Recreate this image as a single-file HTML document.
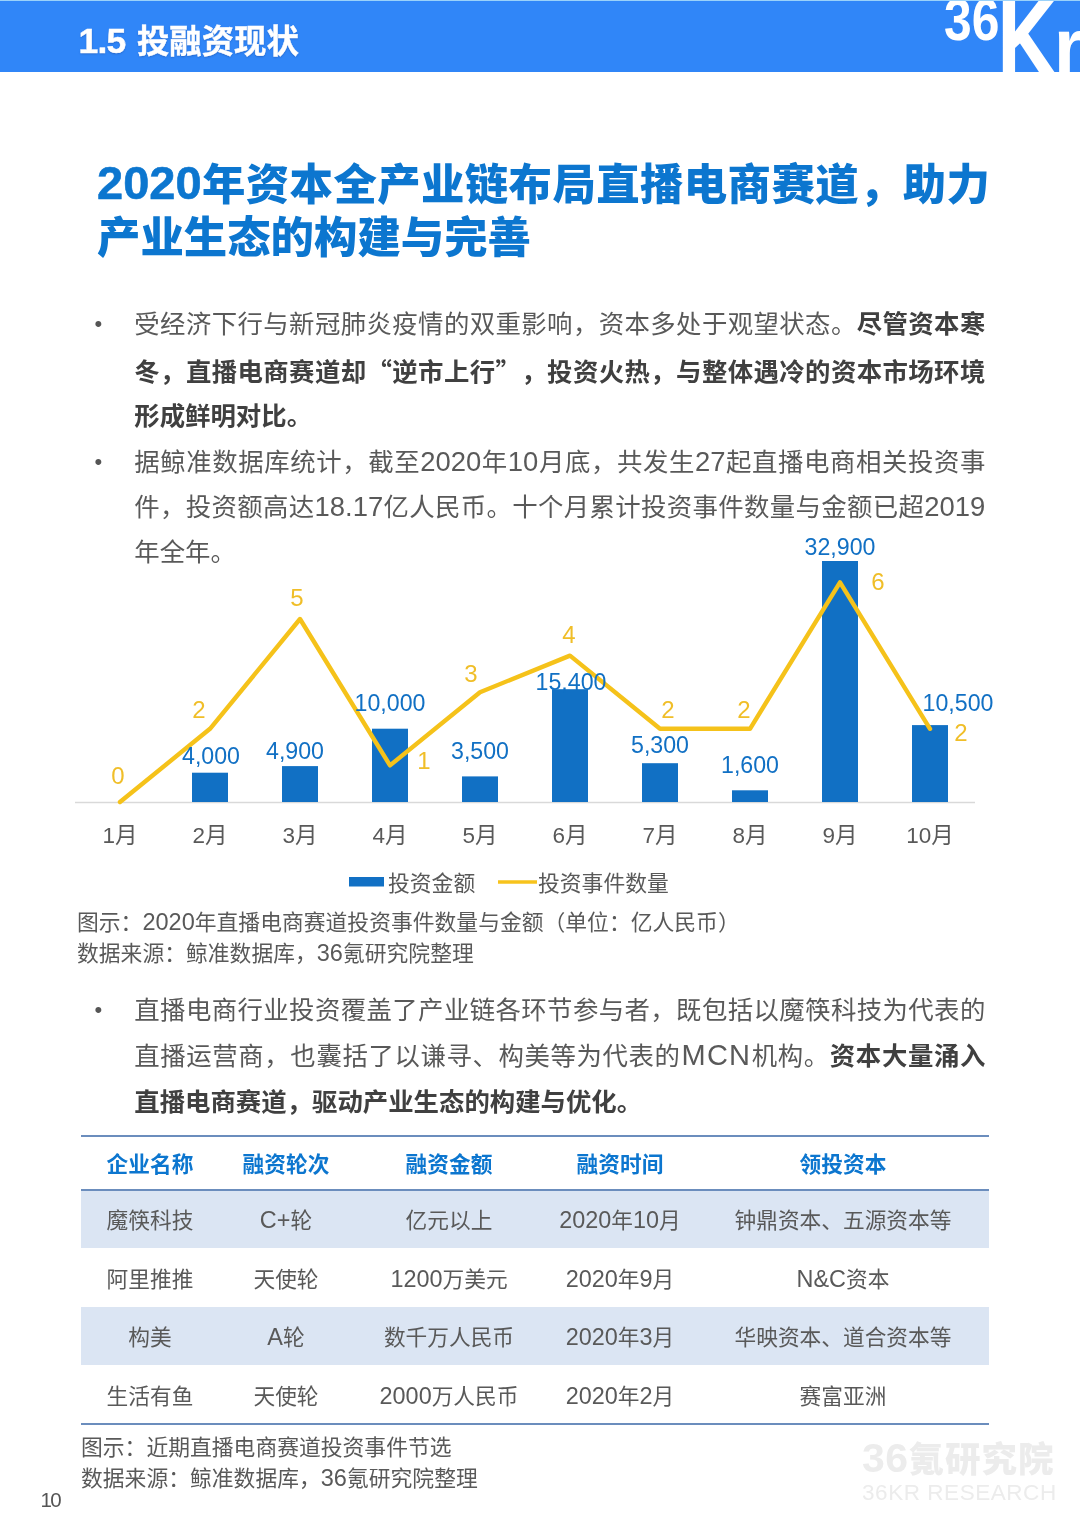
<!DOCTYPE html>
<html lang="zh-CN"><head><meta charset="utf-8"><title>1.5 投融资现状</title>
<style>
*{margin:0;padding:0;box-sizing:border-box}
html,body{width:1080px;height:1527px;background:#fff;overflow:hidden}
body{position:relative;text-spacing-trim:space-all;font-kerning:none;font-family:"Liberation Sans","Noto Sans CJK SC",sans-serif;color:#595959}
.abs{position:absolute;white-space:nowrap}
.j{text-align:justify;text-align-last:justify}
.hdr{position:absolute;left:0;top:0;width:1080px;height:72px;border-top:1px solid #9ad2fa;background:#3086f8;overflow:hidden}
.hdr .t b{font-size:35.5px;line-height:1px;letter-spacing:-0.8px}
.hdr .t{position:absolute;left:78.5px;top:20.8px;font-size:32.4px;line-height:40px;word-spacing:2.5px;-webkit-text-stroke:0.45px #fff;font-weight:700;color:#fff;text-shadow:0 1px 2px rgba(0,0,60,.25)}
.tn{font-size:47px;line-height:1px;-webkit-text-stroke:0.6px #0c76cf;position:relative;top:-1.5px}
.title{color:#0c76cf;font-weight:900;font-size:43.4px;line-height:54px}
.body{font-size:25.4px;line-height:46px;color:#595959}
.body b{color:#404040;font-weight:700}
.n{font-size:1.08em;line-height:1px}
.q{font-family:"Noto Sans CJK SC",sans-serif}
.cap{font-size:21.8px;line-height:30px;color:#595959}
.bul{font-size:22px;line-height:46px;color:#555}
</style></head><body>
<div class="hdr"><div class="t"><b>1.5</b> 投融资现状</div><svg style="position:absolute;left:930px;top:0" width="150" height="71" viewBox="930 1 150 71" font-family='"Liberation Sans",sans-serif' fill="#fff">
<text transform="translate(944,40) scale(0.83,1)" font-size="60" font-weight="700">36</text>
<text transform="translate(998.2,74) scale(0.80,1)" font-size="104" stroke="#fff" stroke-width="5" stroke-linejoin="miter" style="vector-effect:non-scaling-stroke" vector-effect="non-scaling-stroke">K</text>
<text transform="translate(1053.8,74) scale(0.97,1)" font-size="80" font-weight="700">r</text>
</svg></div>
<div class="abs title j" style="left:97px;top:158px;width:893px;"><span class="tn">2020</span>年资本全产业链布局直播电商赛道，助力</div>
<div class="abs title j" style="left:97px;top:211px;width:434px;">产业生态的构建与完善</div>
<div class="abs body j" style="left:134.3px;top:301px;width:851px;">受经济下行与新冠肺炎疫情的双重影响，资本多处于观望状态。<b>尽管资本寒</b></div>
<div class="abs body j" style="left:134.3px;top:347px;width:851px;"><b>冬，直播电商赛道却<span class="q">“</span>逆市上行<span class="q">”</span>，投资火热，与整体遇冷的资本市场环境</b></div>
<div class="abs body" style="left:134.3px;top:393px;"><b>形成鲜明对比。</b></div>
<div class="abs body j" style="left:134.3px;top:439px;width:851px;">据鲸准数据库统计，截至<span class="n">2020</span>年<span class="n">10</span>月底，共发生<span class="n">27</span>起直播电商相关投资事</div>
<div class="abs body j" style="left:134.3px;top:484px;width:851px;">件，投资额高达<span class="n">18.17</span>亿人民币。十个月累计投资事件数量与金额已超<span class="n">2019</span></div>
<div class="abs body" style="left:134.3px;top:529px;">年全年。</div>
<div class="abs body j" style="left:134.3px;top:987px;width:851px;">直播电商行业投资覆盖了产业链各环节参与者，既包括以魔筷科技为代表的</div>
<div class="abs body j" style="left:134.3px;top:1033px;width:851px;">直播运营商，也囊括了以谦寻、构美等为代表的<span style="font-size:29px;line-height:1px;letter-spacing:1.2px;margin-left:1px">MCN</span>机构。<b>资本大量涌入</b></div>
<div class="abs body" style="left:134.3px;top:1079px;"><b>直播电商赛道，驱动产业生态的构建与优化。</b></div>
<div class="abs bul" style="left:94.5px;top:301px;">•</div>
<div class="abs bul" style="left:94.5px;top:439px;">•</div>
<div class="abs bul" style="left:94.5px;top:987px;">•</div>
<div class="abs cap" style="left:77px;top:907.5px;">图示：<span class="n">2020</span>年直播电商赛道投资事件数量与金额（单位：亿人民币）</div>
<div class="abs cap" style="left:77px;top:938.5px;">数据来源：鲸准数据库，<span class="n">36</span>氪研究院整理</div>
<div class="abs cap" style="left:81px;top:1433px;">图示：近期直播电商赛道投资事件节选</div>
<div class="abs cap" style="left:81px;top:1464px;">数据来源：鲸准数据库，<span class="n">36</span>氪研究院整理</div>
<div class="abs " style="left:40.5px;top:1488px;font-size:20.5px;line-height:24px;color:#555;letter-spacing:-1.6px">10</div>
<div class="abs " style="left:862px;top:1434px;font-size:35.5px;line-height:48px;font-weight:900;color:#ececec;letter-spacing:1px"><span style="font-size:41px;letter-spacing:0.5px">36</span>氪研究院</div>
<div class="abs " style="left:862px;top:1478px;font-size:22.5px;line-height:30px;color:#ececec;letter-spacing:0.55px">36KR RESEARCH</div>
<svg class="abs" style="left:0;top:525px" width="1080" height="385" viewBox="0 525 1080 385" font-family='"Liberation Sans","Noto Sans CJK SC",sans-serif'>
<line x1="75" y1="802.5" x2="975" y2="802.5" stroke="#d9d9d9" stroke-width="1.5"/>
<rect x="192" y="772.7" width="36" height="29.3" fill="#1170c4"/>
<rect x="282" y="766.1" width="36" height="35.9" fill="#1170c4"/>
<rect x="372" y="728.7" width="36" height="73.3" fill="#1170c4"/>
<rect x="462" y="776.4" width="36" height="25.6" fill="#1170c4"/>
<rect x="552" y="689.2" width="36" height="112.8" fill="#1170c4"/>
<rect x="642" y="763.2" width="36" height="38.8" fill="#1170c4"/>
<rect x="732" y="790.3" width="36" height="11.7" fill="#1170c4"/>
<rect x="822" y="561.0" width="36" height="241.0" fill="#1170c4"/>
<rect x="912" y="725.1" width="36" height="76.9" fill="#1170c4"/>
<polyline points="120,802.0 210,728.8 300,619.0 390,765.4 480,692.2 570,655.6 660,728.8 750,728.8 840,582.4 930,728.8" fill="none" stroke="#f5c21a" stroke-width="4.4" stroke-linejoin="round" stroke-linecap="round"/>
<text x="211" y="764.3" text-anchor="middle" font-size="23.2" fill="#1170c4">4,000</text>
<text x="295" y="759.3" text-anchor="middle" font-size="23.2" fill="#1170c4">4,900</text>
<text x="390" y="711.3" text-anchor="middle" font-size="23.2" fill="#1170c4">10,000</text>
<text x="480" y="759.3" text-anchor="middle" font-size="23.2" fill="#1170c4">3,500</text>
<text x="571" y="690.3" text-anchor="middle" font-size="23.2" fill="#1170c4">15,400</text>
<text x="660" y="753.3" text-anchor="middle" font-size="23.2" fill="#1170c4">5,300</text>
<text x="750" y="773.3" text-anchor="middle" font-size="23.2" fill="#1170c4">1,600</text>
<text x="840" y="555.3" text-anchor="middle" font-size="23.2" fill="#1170c4">32,900</text>
<text x="958" y="711.3" text-anchor="middle" font-size="23.2" fill="#1170c4">10,500</text>
<text x="118" y="783.7" text-anchor="middle" font-size="24" fill="#f0be28">0</text>
<text x="199" y="717.7" text-anchor="middle" font-size="24" fill="#f0be28">2</text>
<text x="297" y="605.7" text-anchor="middle" font-size="24" fill="#f0be28">5</text>
<text x="424" y="768.7" text-anchor="middle" font-size="24" fill="#f0be28">1</text>
<text x="471" y="681.7" text-anchor="middle" font-size="24" fill="#f0be28">3</text>
<text x="569" y="642.7" text-anchor="middle" font-size="24" fill="#f0be28">4</text>
<text x="668" y="717.7" text-anchor="middle" font-size="24" fill="#f0be28">2</text>
<text x="744" y="717.7" text-anchor="middle" font-size="24" fill="#f0be28">2</text>
<text x="878" y="589.7" text-anchor="middle" font-size="24" fill="#f0be28">6</text>
<text x="961" y="740.7" text-anchor="middle" font-size="24" fill="#f0be28">2</text>
<text x="120" y="843" text-anchor="middle" font-size="22.5" fill="#595959">1月</text>
<text x="210" y="843" text-anchor="middle" font-size="22.5" fill="#595959">2月</text>
<text x="300" y="843" text-anchor="middle" font-size="22.5" fill="#595959">3月</text>
<text x="390" y="843" text-anchor="middle" font-size="22.5" fill="#595959">4月</text>
<text x="480" y="843" text-anchor="middle" font-size="22.5" fill="#595959">5月</text>
<text x="570" y="843" text-anchor="middle" font-size="22.5" fill="#595959">6月</text>
<text x="660" y="843" text-anchor="middle" font-size="22.5" fill="#595959">7月</text>
<text x="750" y="843" text-anchor="middle" font-size="22.5" fill="#595959">8月</text>
<text x="840" y="843" text-anchor="middle" font-size="22.5" fill="#595959">9月</text>
<text x="930" y="843" text-anchor="middle" font-size="22.5" fill="#595959">10月</text>
<rect x="349" y="877" width="35" height="9.5" fill="#1170c4"/>
<text x="388" y="891" font-size="21.8" fill="#595959">投资金额</text>
<line x1="498" y1="882" x2="537" y2="882" stroke="#f7c31c" stroke-width="3.5"/>
<text x="538" y="891" font-size="21.8" fill="#595959">投资事件数量</text>
</svg>
<div class="abs" style="left:81px;top:1190px;width:908px;height:58px;background:#dbe5f3"></div>
<div class="abs" style="left:81px;top:1307px;width:908px;height:58px;background:#dbe5f3"></div>
<div class="abs" style="left:81px;top:1135px;width:908px;height:2px;background:#6b8dbd"></div>
<div class="abs" style="left:81px;top:1189px;width:908px;height:2px;background:#6b8dbd"></div>
<div class="abs" style="left:81px;top:1423px;width:908px;height:2px;background:#6b8dbd"></div>
<div class="abs" style="left:0px;width:300px;text-align:center;top:1137.5px;height:54px;line-height:54px;font-size:21.7px;font-weight:700;color:#0c76cf;">企业名称</div>
<div class="abs" style="left:136px;width:300px;text-align:center;top:1137.5px;height:54px;line-height:54px;font-size:21.7px;font-weight:700;color:#0c76cf;">融资轮次</div>
<div class="abs" style="left:299px;width:300px;text-align:center;top:1137.5px;height:54px;line-height:54px;font-size:21.7px;font-weight:700;color:#0c76cf;">融资金额</div>
<div class="abs" style="left:470px;width:300px;text-align:center;top:1137.5px;height:54px;line-height:54px;font-size:21.7px;font-weight:700;color:#0c76cf;">融资时间</div>
<div class="abs" style="left:693px;width:300px;text-align:center;top:1137.5px;height:54px;line-height:54px;font-size:21.7px;font-weight:700;color:#0c76cf;">领投资本</div>
<div class="abs" style="left:0px;width:300px;text-align:center;top:1191.5px;height:58px;line-height:58px;font-size:21.7px;color:#595959;">魔筷科技</div>
<div class="abs" style="left:136px;width:300px;text-align:center;top:1191.5px;height:58px;line-height:58px;font-size:21.7px;color:#595959;"><span class="n">C+</span>轮</div>
<div class="abs" style="left:299px;width:300px;text-align:center;top:1191.5px;height:58px;line-height:58px;font-size:21.7px;color:#595959;">亿元以上</div>
<div class="abs" style="left:470px;width:300px;text-align:center;top:1191.5px;height:58px;line-height:58px;font-size:21.7px;color:#595959;"><span class="n">2020</span>年<span class="n">10</span>月</div>
<div class="abs" style="left:693px;width:300px;text-align:center;top:1191.5px;height:58px;line-height:58px;font-size:21.7px;color:#595959;">钟鼎资本、五源资本等</div>
<div class="abs" style="left:0px;width:300px;text-align:center;top:1249.5px;height:59px;line-height:59px;font-size:21.7px;color:#595959;">阿里推推</div>
<div class="abs" style="left:136px;width:300px;text-align:center;top:1249.5px;height:59px;line-height:59px;font-size:21.7px;color:#595959;">天使轮</div>
<div class="abs" style="left:299px;width:300px;text-align:center;top:1249.5px;height:59px;line-height:59px;font-size:21.7px;color:#595959;"><span class="n">1200</span>万美元</div>
<div class="abs" style="left:470px;width:300px;text-align:center;top:1249.5px;height:59px;line-height:59px;font-size:21.7px;color:#595959;"><span class="n">2020</span>年<span class="n">9</span>月</div>
<div class="abs" style="left:693px;width:300px;text-align:center;top:1249.5px;height:59px;line-height:59px;font-size:21.7px;color:#595959;"><span class="n">N&amp;C</span>资本</div>
<div class="abs" style="left:0px;width:300px;text-align:center;top:1308.5px;height:58px;line-height:58px;font-size:21.7px;color:#595959;">构美</div>
<div class="abs" style="left:136px;width:300px;text-align:center;top:1308.5px;height:58px;line-height:58px;font-size:21.7px;color:#595959;"><span class="n">A</span>轮</div>
<div class="abs" style="left:299px;width:300px;text-align:center;top:1308.5px;height:58px;line-height:58px;font-size:21.7px;color:#595959;">数千万人民币</div>
<div class="abs" style="left:470px;width:300px;text-align:center;top:1308.5px;height:58px;line-height:58px;font-size:21.7px;color:#595959;"><span class="n">2020</span>年<span class="n">3</span>月</div>
<div class="abs" style="left:693px;width:300px;text-align:center;top:1308.5px;height:58px;line-height:58px;font-size:21.7px;color:#595959;">华映资本、道合资本等</div>
<div class="abs" style="left:0px;width:300px;text-align:center;top:1366.5px;height:59px;line-height:59px;font-size:21.7px;color:#595959;">生活有鱼</div>
<div class="abs" style="left:136px;width:300px;text-align:center;top:1366.5px;height:59px;line-height:59px;font-size:21.7px;color:#595959;">天使轮</div>
<div class="abs" style="left:299px;width:300px;text-align:center;top:1366.5px;height:59px;line-height:59px;font-size:21.7px;color:#595959;"><span class="n">2000</span>万人民币</div>
<div class="abs" style="left:470px;width:300px;text-align:center;top:1366.5px;height:59px;line-height:59px;font-size:21.7px;color:#595959;"><span class="n">2020</span>年<span class="n">2</span>月</div>
<div class="abs" style="left:693px;width:300px;text-align:center;top:1366.5px;height:59px;line-height:59px;font-size:21.7px;color:#595959;">赛富亚洲</div>
</body></html>
